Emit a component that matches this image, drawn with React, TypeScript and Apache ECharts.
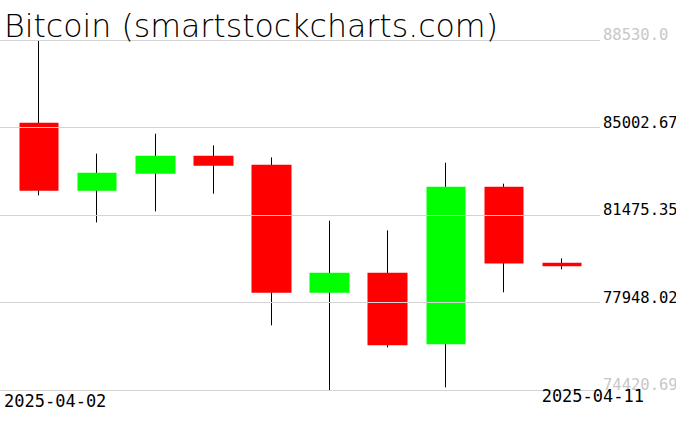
import React, { useEffect, useRef } from "react";
import * as echarts from "echarts";

const dates = [
  "2025-04-02", "2025-04-03", "2025-04-04", "2025-04-05", "2025-04-06",
  "2025-04-07", "2025-04-08", "2025-04-09", "2025-04-10", "2025-04-11",
];
const opens = [85197, 82456, 83141, 83866, 83504, 78344, 79151, 76261, 82617, 79554];
const closes = [82456, 83181, 83866, 83463, 78344, 79151, 76220, 82617, 79525, 79405];
const lows = [82266, 81178, 81621, 82335, 77027, 74420.69, 76140, 74527, 78357, 79284];
const highs = [88530.0, 83947, 84753, 84282, 83798, 81247, 80856, 83584, 82738, 79727];

const yTickLabels = ["74420.69", "77948.02", "81475.35", "85002.67", "88530.0"];
const yMin = 74420.69;
const yMax = 88530.0;
const title = "Bitcoin (smartstockcharts.com)";

export default function App() {
  const ref = useRef<HTMLDivElement>(null);
  useEffect(() => {
    if (!ref.current) return;
    const chart = echarts.init(ref.current, null, { renderer: "svg" });
    const wickData = dates.map((_, i) => [opens[i], closes[i], lows[i], highs[i]]);
    const bodyData = dates.map((_, i) => [
      opens[i],
      closes[i],
      Math.min(opens[i], closes[i]),
      Math.max(opens[i], closes[i]),
    ]);
    const option: any = {
      animation: false,
      backgroundColor: "#ffffff",
      grid: [
        { left: 0, top: 40, width: 600, height: 350, outerBoundsMode: "none", containLabel: false },
        { left: 10, top: 40, width: 581, height: 350, outerBoundsMode: "none", containLabel: false },
      ],
      xAxis: [
        { type: "value", gridIndex: 0, min: 0, max: 1, show: false },
        { type: "category", gridIndex: 1, data: dates, boundaryGap: true, show: false },
      ],
      yAxis: [
        {
          type: "value",
          gridIndex: 0,
          min: 0,
          max: 4,
          interval: 1,
          position: "right",
          z: 10,
          axisLine: { show: false },
          axisTick: { show: false },
          splitLine: { show: true, lineStyle: { color: "#d3d3d3", width: 1 } },
          axisLabel: {
            formatter: (v: number) => yTickLabels[Math.round(v)],
            margin: 3,
            fontFamily: "DejaVu Sans Mono",
            fontSize: 15.5,
            lineHeight: 10,
            verticalAlign: "bottom",
            align: "left",
            color: (v: any) => {
              const n = Math.round(Number(v));
              return n === 0 || n === 4 ? "#c8c8c8" : "#000000";
            },
          },
        },
        { type: "value", gridIndex: 1, min: yMin, max: yMax, show: false },
      ],
      series: [
        {
          type: "candlestick",
          xAxisIndex: 1,
          yAxisIndex: 1,
          barWidth: 1,
          data: wickData,
          itemStyle: {
            color: "transparent",
            color0: "transparent",
            borderColor: "#000000",
            borderColor0: "#000000",
            borderWidth: 1,
          },
        },
        {
          type: "candlestick",
          xAxisIndex: 1,
          yAxisIndex: 1,
          barWidth: 40,
          data: bodyData,
          itemStyle: {
            color: "#00ff00",
            color0: "#ff0000",
            borderColor: "#00ff00",
            borderColor0: "#ff0000",
            borderWidth: 0,
          },
        },
      ],
      graphic: [
        {
          type: "text",
          z: 20,
          style: {
            text: title,
            x: 4,
            y: 26,
            fill: "#000000",
            fontFamily: "DejaVu Sans",
            fontSize: 31.6,
            fontWeight: 200,
            verticalAlign: "middle",
            align: "left",
          },
        },
        {
          type: "text",
          z: 20,
          style: {
            text: dates[0],
            x: 4,
            y: 401,
            fill: "#000000",
            fontFamily: "DejaVu Sans Mono",
            fontSize: 17,
            verticalAlign: "middle",
            align: "left",
          },
        },
        {
          type: "text",
          z: 20,
          style: {
            text: dates[dates.length - 1],
            x: 644,
            y: 396,
            fill: "#000000",
            fontFamily: "DejaVu Sans Mono",
            fontSize: 17,
            verticalAlign: "middle",
            align: "right",
          },
        },
      ],
    };
    chart.setOption(option);
    return () => chart.dispose();
  }, []);
  return (
    <div
      ref={ref}
      style={{ position: "fixed", left: 0, top: 0, width: 676, height: 431, background: "#fff" }}
    />
  );
}
